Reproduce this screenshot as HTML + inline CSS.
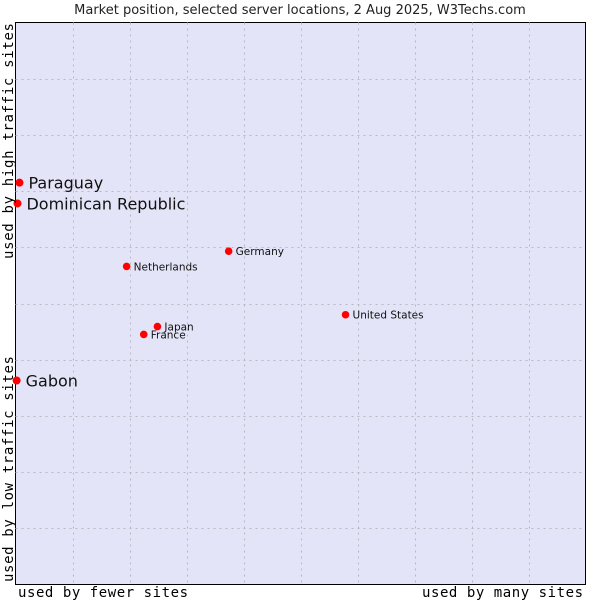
<!DOCTYPE html>
<html><head><meta charset="utf-8"><style>
body{margin:0;background:#fff;width:600px;height:600px;overflow:hidden}
svg{display:block;font-family:"DejaVu Sans","Liberation Sans",sans-serif}
</style></head><body>
<svg id="c" width="600" height="600">
<text x="300" y="14" text-anchor="middle" font-size="13" fill="#222">Market position, selected server locations, 2 Aug 2025, W3Techs.com</text>
<rect x="15.5" y="22.5" width="570" height="562" fill="#e4e4f8" stroke="#000"/>
<g id="grid"></g>
<g id="pts"></g>
<text x="18" y="597" font-family="DejaVu Sans Mono,Liberation Mono,monospace" font-size="14" textLength="170">used by fewer sites</text>
<text x="583" y="597" text-anchor="end" font-family="DejaVu Sans Mono,Liberation Mono,monospace" font-size="14" textLength="161">used by many sites</text>
<text transform="translate(13,582) rotate(-90)" font-family="DejaVu Sans Mono,Liberation Mono,monospace" font-size="14" textLength="226">used by low traffic sites</text>
<text transform="translate(13,259) rotate(-90)" font-family="DejaVu Sans Mono,Liberation Mono,monospace" font-size="14" textLength="236">used by high traffic sites</text>
</svg>
<script>
const names=["Paraguay","Dominican Republic","Gabon","Germany","Netherlands","United States","Japan","France"];
const xs=[0.07,0.035,0.02,3.74,1.95,5.79,2.49,2.25];
const ys=[7.15,6.78,3.63,5.93,5.66,4.80,4.59,4.45];
const big=[true,true,true,false,false,false,false,false];
const L=15.5,T=22.5,W=570,H=562;
const sx=v=>L+v/10*W, sy=v=>T+H-v/10*H;
const NS="http://www.w3.org/2000/svg";
const g=document.getElementById('grid'),p=document.getElementById('pts');
for(let i=1;i<10;i++){
 let a=document.createElementNS(NS,'line');
 
 
 a.setAttribute('x1',Math.round(sx(i))+.5);a.setAttribute('x2',Math.round(sx(i))+.5);a.setAttribute('y1',T);a.setAttribute('y2',T+H);
 a.setAttribute('stroke','#b8b8c0');a.setAttribute('stroke-dasharray','2,4');g.appendChild(a);
 let b=document.createElementNS(NS,'line');
 
 
 b.setAttribute('y1',Math.round(sy(i))+.5);b.setAttribute('y2',Math.round(sy(i))+.5);b.setAttribute('x1',L);b.setAttribute('x2',L+W);
 b.setAttribute('stroke','#b8b8c0');b.setAttribute('stroke-dasharray','2,4');g.appendChild(b);
}
names.forEach((n,i)=>{
 const x=sx(xs[i]),y=sy(ys[i]);
 const c=document.createElementNS(NS,'circle');
 
 
 c.setAttribute('cx',x);c.setAttribute('cy',y);c.setAttribute('r',big[i]?4:3.8);c.setAttribute('fill','#f00');p.appendChild(c);
 const t=document.createElementNS(NS,'text');
 
 
 t.setAttribute('x',x+(big[i]?9:7));t.setAttribute('y',y+(big[i]?6:4));
 t.setAttribute('font-size',big[i]?16:10.5);t.setAttribute('fill','#111');t.textContent=n;p.appendChild(t);
});
</script>
</body></html>
